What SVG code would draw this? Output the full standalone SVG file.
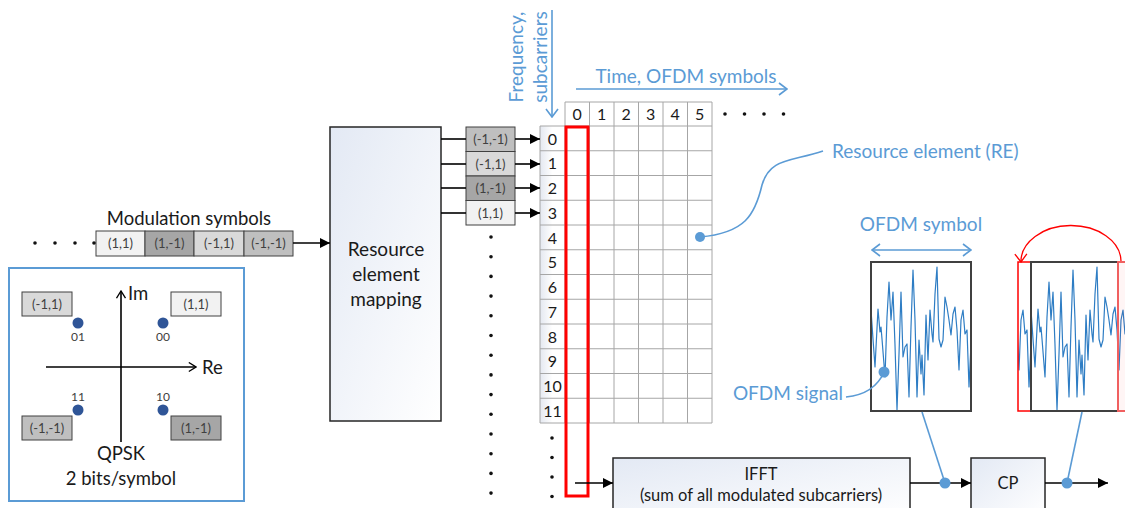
<svg xmlns="http://www.w3.org/2000/svg" xmlns:xlink="http://www.w3.org/1999/xlink" width="1125" height="508" viewBox="0 0 1125 508">
  <style>
    text { font-family: Lato, "Open Sans", "Liberation Sans", sans-serif; }
    .blk { fill: url(#blockFill); stroke: #262626; stroke-width: 1.5; }
    .cell { stroke: #404040; stroke-width: 1; }
    .sym { font-size: 13px; fill: #404040; text-anchor: middle; }
    .lbl { font-size: 19px; fill: #1a1a1a; text-anchor: middle; }
    .blue { fill: #5b9bd5; }
    .bluetxt { font-size: 19px; fill: #5b9bd5; }
    .grid { stroke: #a6a6a6; stroke-width: 1; fill: none; }
    .num { font-size: 16px; fill: #1a1a1a; text-anchor: middle; }
    .dot { fill: #111; }
    .conn { stroke: #000; stroke-width: 1.6; fill: none; }
    .bconn { stroke: #5b9bd5; stroke-width: 1.6; fill: none; }
    .wave { fill: none; stroke: #2e7dc4; stroke-width: 1.2; stroke-linejoin: round; }
  </style>
  <defs>
    <linearGradient id="blockFill" x1="0" y1="0" x2="1" y2="1">
      <stop offset="0" stop-color="#e3e9f4"/>
      <stop offset="1" stop-color="#ffffff"/>
    </linearGradient>
    <linearGradient id="labelFill" x1="0" y1="0" x2="1" y2="0">
      <stop offset="0" stop-color="#e4e8f0"/>
      <stop offset="0.5" stop-color="#ffffff"/>
    </linearGradient>
    <marker id="arrowBlk" viewBox="0 0 10 10" refX="10" refY="5" markerWidth="10" markerHeight="10" markerUnits="userSpaceOnUse" orient="auto">
      <path d="M0,0 L10,5 L0,10 z" fill="#000"/>
    </marker>
    <marker id="openBlk" viewBox="0 0 10 12" refX="9" refY="6" markerWidth="9" markerHeight="11" markerUnits="userSpaceOnUse" orient="auto">
      <path d="M1,1 L9,6 L1,11" fill="none" stroke="#000" stroke-width="1.5"/>
    </marker>
    <marker id="openBlue" viewBox="0 0 10 14" refX="9" refY="7" markerWidth="10" markerHeight="14" markerUnits="userSpaceOnUse" orient="auto-start-reverse">
      <path d="M1,1 L9,7 L1,13" fill="none" stroke="#5b9bd5" stroke-width="1.6"/>
    </marker>
    <marker id="openRed" viewBox="0 0 10 14" refX="9" refY="7" markerWidth="10" markerHeight="14" markerUnits="userSpaceOnUse" orient="auto">
      <path d="M1,1 L9,7 L1,13" fill="none" stroke="#ff0000" stroke-width="1.3"/>
    </marker>
    <!-- time-domain OFDM waveform, local box 100 x 149 -->
    <polyline id="wave" class="wave" points="0,48 2,77 4,105 7,47 9,70 10,65 11,77 14,115 16,55 18,20 20,58 22,30 24,83 26,148 28,92 30,30 32,95 34,85 36,82 38,135 40,65 42,8 44,58 46,135 48,78 50,112 51,93 53,133 55,53 57,98 59,48 61,72 62,80 64,32 66,5 68,77 70,85 72,78 74,35 76,45 78,58 80,73 82,52 84,45 86,68 88,108 90,58 92,48 94,72 96,68 98,125 100,82"/>
    <clipPath id="clipSym1"><rect x="871" y="262" width="100" height="149"/></clipPath>
    <clipPath id="clipSym2"><rect x="1031" y="262" width="100" height="149"/></clipPath>
    <clipPath id="clipCp"><rect x="1018" y="262" width="13" height="149"/></clipPath>
  </defs>

  <rect x="0" y="0" width="1125" height="508" fill="#ffffff"/>

  <!-- modulation symbol stream -->
  <g id="modulation-symbols">
    <text x="189" y="225" class="lbl" style="font-size:18.5px">Modulation symbols</text>
    <rect x="96" y="231" width="49" height="25" fill="#f2f2f2" class="cell"/>
    <rect x="145" y="231" width="49" height="25" fill="#a6a6a6" class="cell"/>
    <rect x="194" y="231" width="50" height="25" fill="#d9d9d9" class="cell"/>
    <rect x="244" y="231" width="49" height="25" fill="#bfbfbf" class="cell"/>
    <text x="120.5" y="248" class="sym">(1,1)</text>
    <text x="169.5" y="248" class="sym">(1,-1)</text>
    <text x="219" y="248" class="sym">(-1,1)</text>
    <text x="268.5" y="248" class="sym">(-1,-1)</text>
    <circle cx="35" cy="243" r="1.8" class="dot"/>
    <circle cx="55" cy="243" r="1.8" class="dot"/>
    <circle cx="75" cy="243" r="1.8" class="dot"/>
    <circle cx="94" cy="243" r="1.8" class="dot"/>
  </g>

  <!-- QPSK constellation -->
  <g id="qpsk">
    <rect x="9" y="268" width="235" height="233" fill="#ffffff" stroke="#5b9bd5" stroke-width="2"/>
    <line x1="121" y1="442" x2="121" y2="291" class="conn" marker-end="url(#openBlk)"/>
    <line x1="46" y1="367" x2="196" y2="367" class="conn" marker-end="url(#openBlk)"/>
    <text x="128" y="300" style="font-size:18.5px" fill="#1a1a1a">Im</text>
    <text x="202" y="374" style="font-size:18.5px" fill="#1a1a1a">Re</text>
    <rect x="22" y="292" width="50" height="24" fill="#d9d9d9" class="cell"/>
    <rect x="171" y="292" width="50" height="24" fill="#f2f2f2" class="cell"/>
    <rect x="22" y="416" width="50" height="24" fill="#bfbfbf" class="cell"/>
    <rect x="171" y="416" width="50" height="24" fill="#a6a6a6" class="cell"/>
    <text x="47" y="308.5" class="sym">(-1,1)</text>
    <text x="196" y="308.5" class="sym">(1,1)</text>
    <text x="47" y="432.5" class="sym">(-1,-1)</text>
    <text x="196" y="432.5" class="sym">(1,-1)</text>
    <circle cx="78" cy="323" r="5.5" fill="#2f5597"/>
    <circle cx="163" cy="323" r="5.5" fill="#2f5597"/>
    <circle cx="78" cy="410" r="5.5" fill="#2f5597"/>
    <circle cx="163" cy="410" r="5.5" fill="#2f5597"/>
    <text x="78" y="341" class="sym" style="font-size:12px" fill="#262626">01</text>
    <text x="163" y="341" class="sym" style="font-size:12px" fill="#262626">00</text>
    <text x="78" y="401" class="sym" style="font-size:12px" fill="#262626">11</text>
    <text x="163" y="401" class="sym" style="font-size:12px" fill="#262626">10</text>
    <text x="121" y="460" class="lbl" style="font-size:18.5px">QPSK</text>
    <text x="121" y="485" class="lbl" style="font-size:18.5px">2 bits/symbol</text>
  </g>

  <!-- resource element mapping block -->
  <g id="re-mapping">
    <rect x="330" y="127" width="111" height="294" class="blk"/>
    <text x="386" y="256" class="lbl">Resource</text>
    <text x="386" y="281" class="lbl">element</text>
    <text x="386" y="306" class="lbl">mapping</text>
  </g>

  <!-- symbols mapped to subcarriers -->
  <g id="mapped-symbols">
    <rect x="466" y="127" width="49" height="24.5" fill="#bfbfbf" class="cell"/>
    <rect x="466" y="151.5" width="49" height="24.5" fill="#d9d9d9" class="cell"/>
    <rect x="466" y="176" width="49" height="24.5" fill="#a6a6a6" class="cell"/>
    <rect x="466" y="200.5" width="49" height="24.5" fill="#f2f2f2" class="cell"/>
    <text x="490.5" y="144" class="sym">(-1,-1)</text>
    <text x="490.5" y="168.5" class="sym">(-1,1)</text>
    <text x="490.5" y="193" class="sym">(1,-1)</text>
    <text x="490.5" y="217.5" class="sym">(1,1)</text>
    <g class="dot">
      <circle cx="491" cy="237" r="1.8"/><circle cx="491" cy="256.7" r="1.8"/>
      <circle cx="491" cy="276.4" r="1.8"/><circle cx="491" cy="296.1" r="1.8"/>
      <circle cx="491" cy="315.8" r="1.8"/><circle cx="491" cy="335.5" r="1.8"/>
      <circle cx="491" cy="355.2" r="1.8"/><circle cx="491" cy="374.9" r="1.8"/>
      <circle cx="491" cy="394.6" r="1.8"/><circle cx="491" cy="414.3" r="1.8"/>
      <circle cx="491" cy="434" r="1.8"/><circle cx="491" cy="453.7" r="1.8"/>
      <circle cx="491" cy="473.4" r="1.8"/><circle cx="491" cy="493.1" r="1.8"/>
    </g>
  </g>

  <!-- time/frequency resource grid -->
  <g id="resource-grid">
    <rect x="540" y="126" width="25" height="297" fill="url(#labelFill)"/>
    <path class="grid" d="M565,102 H712 V423 H540 V126 H712
      M589.5,102 V423 M614,102 V423 M638.5,102 V423 M663,102 V423 M687.5,102 V423 M565,102 V423
      M540,150.75 H712 M540,175.5 H712 M540,200.25 H712 M540,225 H712 M540,249.75 H712
      M540,274.5 H712 M540,299.25 H712 M540,324 H712 M540,348.75 H712 M540,373.5 H712 M540,398.25 H712"/>
    <g class="num">
      <text x="577.25" y="120">0</text><text x="601.75" y="120">1</text>
      <text x="626.25" y="120">2</text><text x="650.75" y="120">3</text>
      <text x="675.25" y="120">4</text><text x="699.75" y="120">5</text>
      <text x="552.5" y="144.5">0</text><text x="552.5" y="169.25">1</text>
      <text x="552.5" y="194">2</text><text x="552.5" y="218.75">3</text>
      <text x="552.5" y="243.5">4</text><text x="552.5" y="268.25">5</text>
      <text x="552.5" y="293">6</text><text x="552.5" y="317.75">7</text>
      <text x="552.5" y="342.5">8</text><text x="552.5" y="367.25">9</text>
      <text x="552.5" y="392">10</text><text x="552.5" y="416.75">11</text>
    </g>
    <g class="dot">
      <circle cx="725" cy="114" r="1.8"/><circle cx="744.5" cy="114" r="1.8"/>
      <circle cx="764" cy="114" r="1.8"/><circle cx="783.5" cy="114" r="1.8"/>
      <circle cx="552" cy="438" r="1.8"/><circle cx="552" cy="457.5" r="1.8"/>
      <circle cx="552" cy="477" r="1.8"/><circle cx="552" cy="496.5" r="1.8"/>
    </g>
    <!-- one OFDM symbol column -->
    <rect x="566" y="127" width="22" height="369" fill="none" stroke="#ff0000" stroke-width="3"/>
  </g>

  <!-- axis annotations -->
  <g id="axis-labels">
    <text transform="translate(523,57) rotate(-90)" class="bluetxt" text-anchor="middle">Frequency,</text>
    <text transform="translate(547,57) rotate(-90)" class="bluetxt" text-anchor="middle">subcarriers</text>
    <line x1="552" y1="10" x2="552" y2="117" class="bconn" marker-end="url(#openBlue)"/>
    <text x="686" y="83" class="bluetxt" text-anchor="middle">Time, OFDM symbols</text>
    <line x1="576" y1="89" x2="787" y2="89" class="bconn" marker-end="url(#openBlue)"/>
  </g>

  <!-- resource element callout -->
  <g id="re-callout">
    <path d="M700,237 C745,233 755,215 762,185 C770,158 790,162 823,151" class="bconn"/>
    <circle cx="700" cy="237" r="5" class="blue"/>
    <text x="832" y="158" class="bluetxt">Resource element (RE)</text>
  </g>

  <!-- OFDM symbol waveform -->
  <g id="ofdm-symbol">
    <text x="921" y="231" class="bluetxt" text-anchor="middle">OFDM symbol</text>
    <line x1="872" y1="250" x2="971" y2="250" class="bconn" marker-start="url(#openBlue)" marker-end="url(#openBlue)"/>
    <g clip-path="url(#clipSym1)"><use xlink:href="#wave" href="#wave" x="871" y="262"/></g>
    <rect x="871" y="262" width="100" height="149" fill="none" stroke="#404040" stroke-width="2"/>
    <text x="843" y="400" class="bluetxt" text-anchor="end">OFDM signal</text>
    <path d="M846,397 C866,395 878,386 884,372" class="bconn"/>
    <circle cx="884" cy="372" r="5.5" class="blue"/>
  </g>

  <!-- OFDM symbol with cyclic prefix -->
  <g id="ofdm-symbol-cp">
    <g clip-path="url(#clipSym2)"><use xlink:href="#wave" href="#wave" x="1031" y="262"/></g>
    <g clip-path="url(#clipCp)"><use xlink:href="#wave" href="#wave" x="931" y="262"/></g>
    <rect x="1018" y="262" width="13" height="149" fill="none" stroke="#ff0000" stroke-width="1.5"/>
    <rect x="1031" y="262" width="100" height="149" fill="none" stroke="#404040" stroke-width="2"/>
    <rect x="1118" y="262" width="13" height="149" fill="#ff0000" fill-opacity="0.04" stroke="#f06060" stroke-width="2"/>
    <path d="M1121,261 A50,36 0 0 0 1021,262" fill="none" stroke="#ff0000" stroke-width="1.3" marker-end="url(#openRed)"/>
  </g>

  <!-- IFFT block -->
  <g id="ifft">
    <rect x="613" y="458" width="297" height="60" class="blk"/>
    <text x="761" y="480" class="lbl" style="font-size:16.5px">IFFT</text>
    <text x="761" y="501" class="lbl" style="font-size:16.5px">(sum of all modulated subcarriers)</text>
  </g>

  <!-- cyclic prefix block -->
  <g id="cp">
    <rect x="971" y="458" width="74" height="60" class="blk"/>
    <text x="1008" y="489" class="lbl" style="font-size:16.5px">CP</text>
  </g>

  <!-- connectors -->
  <g id="connectors">
    <line x1="293" y1="243" x2="330" y2="243" class="conn" marker-end="url(#arrowBlk)"/>
    <line x1="441" y1="139" x2="466" y2="139" class="conn"/>
    <line x1="441" y1="164" x2="466" y2="164" class="conn"/>
    <line x1="441" y1="188" x2="466" y2="188" class="conn"/>
    <line x1="441" y1="213" x2="466" y2="213" class="conn"/>
    <line x1="515" y1="139" x2="540" y2="139" class="conn" marker-end="url(#arrowBlk)"/>
    <line x1="515" y1="164" x2="540" y2="164" class="conn" marker-end="url(#arrowBlk)"/>
    <line x1="515" y1="188" x2="540" y2="188" class="conn" marker-end="url(#arrowBlk)"/>
    <line x1="515" y1="213" x2="540" y2="213" class="conn" marker-end="url(#arrowBlk)"/>
    <line x1="575" y1="483" x2="613" y2="483" class="conn" marker-end="url(#arrowBlk)"/>
    <line x1="910" y1="483" x2="971" y2="483" class="conn" marker-end="url(#arrowBlk)"/>
    <line x1="1045" y1="483" x2="1108" y2="483" class="conn" marker-end="url(#arrowBlk)"/>
    <line x1="922" y1="412" x2="945" y2="483" class="bconn"/>
    <line x1="1082" y1="412" x2="1067" y2="483" class="bconn"/>
    <circle cx="945" cy="483" r="5.5" class="blue"/>
    <circle cx="1067" cy="483" r="5.5" class="blue"/>
  </g>
</svg>
